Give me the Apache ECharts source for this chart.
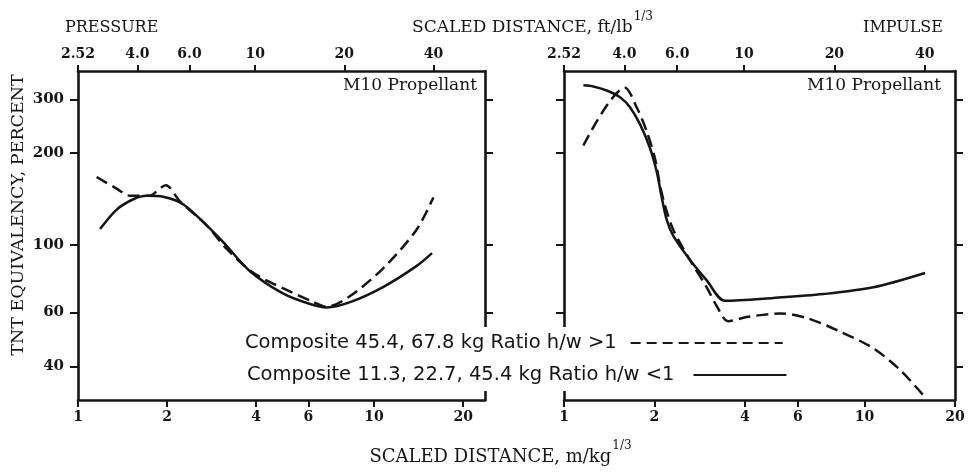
<!DOCTYPE html>
<html>
<head>
<meta charset="utf-8">
<script src="https://cdn.jsdelivr.net/npm/echarts@6/dist/echarts.min.js"></script>
<style>
html,body{margin:0;padding:0;background:#fff;}
#chart{width:970px;height:473px;}
</style>
</head>
<body>
<div id="chart"></div>
<script>
// ---- data (scaled distance in m/kg^1/3, TNT equivalency in percent) ----
const nameDashed = 'Composite 45.4, 67.8 kg Ratio h/w >1';
const nameSolid = 'Composite 11.3, 22.7, 45.4 kg Ratio h/w <1';

const pressureDashedX = [1.156, 1.351, 1.498, 1.75, 1.797, 1.98, 2.21, 2.72, 3.18, 3.91, 4.94, 6.24, 6.92, 8.30, 10.76, 13.9, 15.86];
const pressureDashedY = [167, 153, 145, 145, 147, 157, 139, 116, 97, 81, 72, 65, 62.7, 68, 84, 112, 143];

const pressureSolidX = [1.187, 1.351, 1.538, 1.706, 1.942, 2.27, 2.72, 3.10, 3.81, 4.94, 6.08, 6.92, 8.30, 10.76, 13.9, 15.7];
const pressureSolidY = [112.7, 130.6, 141.2, 144.9, 143.8, 135.8, 116, 102, 82, 69.2, 64.0, 62.4, 64.9, 72.9, 85.2, 94];

const impulseDashedX = [1.16, 1.596, 1.745, 1.884, 2.008, 2.087, 2.168, 2.311, 2.626, 2.985, 3.22, 3.52, 4.05, 5.24, 6.42, 8.28, 10.7, 13.13, 16.1];
const impulseDashedY = [212, 328, 283, 236, 192, 157, 134.5, 112, 89.2, 72.6, 63.1, 56.2, 58, 59.6, 57.6, 52, 45.8, 38.9, 31.2];

const impulseSolidX = [1.16, 1.252, 1.387, 1.536, 1.658, 1.79, 1.932, 2.035, 2.098, 2.196, 2.311, 2.626, 2.985, 3.435, 4.974, 7.30, 10.7, 15.9];
const impulseSolidY = [334, 331, 321, 305, 283, 249, 208, 174, 149, 121, 107, 89.2, 76.5, 65.6, 67, 69, 72.6, 80.9];

// ---- ticks ----
const bottomTickValues = [1, 2, 4, 6, 10, 20];
const bottomTickLabels = ['1', '2', '4', '6', '10', '20'];
const topTickValues = [2.52, 4, 6, 10, 20, 40];
const topTickLabels = ['2.52', '4.0', '6.0', '10', '20', '40'];
const yTickValues = [40, 60, 100, 200, 300];
const yTickLabels = ['40', '60', '100', '200', '300'];

const ftPerM = 2.52;           // 1 m/kg^1/3 = 2.52 ft/lb^1/3
const leftXMax = 23.7, rightXMax = 20;
const yMin = 31, yMax = 372;

function pairs(xs, ys) { return xs.map((x, i) => [x, ys[i]]); }
function labelFor(values, labels) {
  return function (v) {
    let best = 0, d = Infinity;
    values.forEach((t, i) => { const dd = Math.abs(Math.log(t) - Math.log(v)); if (dd < d) { d = dd; best = i; } });
    return labels[best];
  };
}

const ink = '#151515';
const serif = '"DejaVu Serif", serif';
const axisLine = { show: true, onZero: false, lineStyle: { color: ink, width: 2.6 } };

function xBottom(grid, max) {
  return {
    gridIndex: grid, type: 'log', logBase: 10, position: 'bottom', min: 1, max: max,
    axisLine: axisLine, splitLine: { show: false }, minorTick: { show: false },
    axisTick: { show: true, inside: false, length: 7, customValues: bottomTickValues, lineStyle: { color: ink, width: 2 } },
    axisLabel: { show: true, margin: 10, customValues: bottomTickValues, formatter: labelFor(bottomTickValues, bottomTickLabels),
      fontFamily: serif, fontSize: 14, fontWeight: 'bold', color: ink }
  };
}
function xTop(grid, max) {
  return {
    gridIndex: grid, type: 'log', logBase: 10, position: 'top', min: ftPerM, max: ftPerM * max,
    axisLine: axisLine, splitLine: { show: false }, minorTick: { show: false },
    axisTick: { show: true, inside: false, length: 6, customValues: topTickValues, lineStyle: { color: ink, width: 2 } },
    axisLabel: { show: true, margin: 10, customValues: topTickValues, formatter: labelFor(topTickValues, topTickLabels),
      fontFamily: serif, fontSize: 14, fontWeight: 'bold', color: ink }
  };
}
function yAx(grid, pos, showLabel) {
  return {
    gridIndex: grid, type: 'log', logBase: 10, position: pos, min: yMin, max: yMax,
    axisLine: axisLine, splitLine: { show: false }, minorTick: { show: false },
    axisTick: { show: true, inside: false, length: 8, customValues: yTickValues, lineStyle: { color: ink, width: 2 } },
    axisLabel: { show: showLabel, margin: 14, customValues: yTickValues, formatter: labelFor(yTickValues, yTickLabels),
      fontFamily: serif, fontSize: 15, fontWeight: 'bold', color: ink }
  };
}

function line(name, xi, yi, data, dashed) {
  return {
    name: name, type: 'line', xAxisIndex: xi, yAxisIndex: yi, data: data,
    symbol: 'none', smooth: 0.3, color: ink,
    lineStyle: { color: ink, width: 2.5, type: dashed ? [12, 6] : 'solid' },
    z: 3
  };
}

// text helpers
const measureCtx = document.createElement('canvas').getContext('2d');
function textWidth(t, font) { measureCtx.font = font; return measureCtx.measureText(t).width; }
function txt(t, x, y, font, align, extra) {
  return Object.assign({
    type: 'text', x: x, y: y, z: 10,
    style: { text: t, font: font, fill: ink, align: align, verticalAlign: 'middle', textAlign: align, textVerticalAlign: 'middle' }
  }, extra || {});
}
function titleWithSup(main, sup, cx, cy, fontMain, fontSup) {
  const w1 = textWidth(main, fontMain), w2 = textWidth(sup, fontSup);
  const x0 = cx - (w1 + w2) / 2;
  return [txt(main, x0, cy, fontMain, 'left'), txt(sup, x0 + w1 + 1, cy - 11, fontSup, 'left')];
}

const fSup = '12px "DejaVu Serif"';

const graphics = [
  txt('PRESSURE', 65, 28, '16px "DejaVu Serif"', 'left'),
  txt('IMPULSE', 943, 28, '16px "DejaVu Serif"', 'right'),
  txt('M10 Propellant', 477, 86, '17px "DejaVu Serif"', 'right'),
  txt('M10 Propellant', 941, 86, '17px "DejaVu Serif"', 'right'),
  txt('TNT EQUIVALENCY, PERCENT', 18, 215, '17.5px "DejaVu Serif"', 'center', { rotation: Math.PI / 2 })
].concat(
  titleWithSup('SCALED DISTANCE, ft/lb', '1/3', 532, 28, '17px "DejaVu Serif"', fSup),
  titleWithSup('SCALED DISTANCE, m/kg', '1/3', 500, 457, '18px "DejaVu Serif"', fSup)
);

const legendText = { fontFamily: '"DejaVu Sans", sans-serif', fontSize: 19.5, color: ink, lineHeight: 22 };
const legendHide = { color: 'rgba(0,0,0,0)', borderColor: 'rgba(0,0,0,0)', borderWidth: 0, opacity: 0 };

const option = {
  animation: false,
  backgroundColor: '#fff',
  grid: [
    { left: 78, top: 71, width: 407, height: 329 },
    { left: 564, top: 71, width: 391, height: 329 }
  ],
  xAxis: [xBottom(0, leftXMax), xTop(0, leftXMax), xBottom(1, rightXMax), xTop(1, rightXMax)],
  yAxis: [yAx(0, 'left', true), yAx(0, 'right', false), yAx(1, 'left', false), yAx(1, 'right', false)],
  legend: [
    { data: [nameDashed], left: 242, top: 327, align: 'right', itemWidth: 152, itemHeight: 14,
      backgroundColor: '#fff', padding: [5, 8, 5, 3], selectedMode: false, itemStyle: legendHide,
      lineStyle: { width: 2, type: [10, 6] },
      textStyle: Object.assign({ padding: [0, 9, 0, 0] }, legendText) },
    { data: [nameSolid], left: 244, top: 359, align: 'right', itemWidth: 93, itemHeight: 14,
      backgroundColor: '#fff', padding: [5, 8, 5, 3], selectedMode: false, itemStyle: legendHide,
      lineStyle: { width: 2, type: 'solid' },
      textStyle: Object.assign({ padding: [0, 14, 0, 0] }, legendText) }
  ],
  graphic: graphics,
  series: [
    line(nameDashed, 0, 0, pairs(pressureDashedX, pressureDashedY), true),
    line(nameSolid, 0, 0, pairs(pressureSolidX, pressureSolidY), false),
    line(nameDashed, 2, 2, pairs(impulseDashedX, impulseDashedY), true),
    line(nameSolid, 2, 2, pairs(impulseSolidX, impulseSolidY), false)
  ]
};

const chart = echarts.init(document.getElementById('chart'), null, { renderer: 'canvas' });
chart.setOption(option);
</script>
</body>
</html>
